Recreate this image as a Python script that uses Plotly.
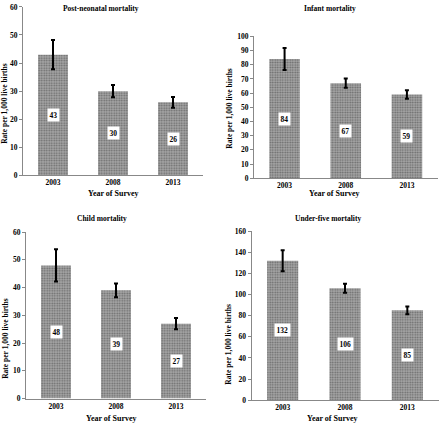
import plotly.graph_objects as go

years = ["2003", "2008", "2013"]

post_neonatal = [43, 30, 26]
post_neonatal_err = [5.2, 2.2, 1.9]
infant = [84, 67, 59]
infant_err = [7.7, 3.2, 3.0]
child = [48, 39, 27]
child_err = [5.8, 2.5, 2.0]
under_five = [132, 106, 85]
under_five_err = [10.0, 4.3, 3.6]

titles = ["Post-neonatal mortality", "Infant mortality", "Child mortality", "Under-five mortality"]
y_max = [60, 100, 60, 160]
y_step = [10, 10, 10, 20]

W, H = 440, 428
FONT = "Liberation Serif"

# pixel boxes for each panel: (left, right, top, bottom)
boxes = [(23, 203, 3, 175), (254, 437.5, 33, 178), (26, 206, 233, 403), (251.5, 438.5, 232, 404.7)]
title_pos = [(101, 5), (330, 5), (102, 219), (328, 219)]
xtitle_pos = [(113, 194), (334, 194), (111, 423), (332, 423)]
ytitle_pos = [(5, 102), (230, 107), (6, 342), (229, 348)]

series = [post_neonatal, infant, child, under_five]
errors = [post_neonatal_err, infant_err, child_err, under_five_err]


def paper_note(x, y, text, size=7.5, angle=0):
    return dict(x=x / W, y=1 - y / H, xref="paper", yref="paper", text=text,
                showarrow=False, xanchor="center", yanchor="middle", textangle=angle,
                font=dict(family=FONT, size=size, color="black"))


fig = go.Figure()
annotations = []
for i in range(4):
    xa = "x" if i == 0 else f"x{i+1}"
    ya = "y" if i == 0 else f"y{i+1}"
    fig.add_trace(go.Bar(
        x=years, y=series[i], xaxis=xa, yaxis=ya, width=0.5,
        marker=dict(color="#8c8c8c", line=dict(width=0),
                    pattern=dict(shape=".", bgcolor="#a6a6a6", fgcolor="#2e2e2e",
                                 size=2.5, solidity=0.4)),
        error_y=dict(type="data", array=errors[i], color="black", thickness=2, width=2),
        showlegend=False, hoverinfo="skip",
    ))
    l, r, t, b = boxes[i]
    fig.update_layout({
        f"xaxis{'' if i == 0 else i+1}": dict(
            type="category", domain=[l / W, r / W], anchor=ya, range=[-0.5, 2.5],
            showline=True, linecolor="#888", linewidth=1, ticks="",
            tickfont=dict(family=FONT, size=7.5, color="black"), showgrid=False,
            fixedrange=True),
        f"yaxis{'' if i == 0 else i+1}": dict(
            domain=[1 - b / H, 1 - t / H], anchor=xa, range=[0, y_max[i]],
            dtick=y_step[i], showline=True, linecolor="#888", linewidth=1,
            ticks="outside", ticklen=3, tickcolor="#888", showgrid=False,
            zeroline=False, tickfont=dict(family=FONT, size=7.5, color="black"),
            fixedrange=True),
    })
    for j, v in enumerate(series[i]):
        annotations.append(dict(
            x=j, y=v / 2, xref=xa, yref=ya, text=f"<b>{v}</b>", showarrow=False,
            xanchor="center", yanchor="middle", bgcolor="white", borderpad=1.5,
            font=dict(family=FONT, size=7.5, color="black")))
    annotations.append(paper_note(*title_pos[i], f"<b>{titles[i]}</b>"))
    annotations.append(paper_note(*xtitle_pos[i], "<b>Year of Survey</b>", size=8))
    annotations.append(paper_note(*ytitle_pos[i], "<b>Rate per 1,000 live births</b>", angle=-90))

fig.update_layout(
    width=W, height=H, margin=dict(l=0, r=0, t=0, b=0),
    paper_bgcolor="white", plot_bgcolor="white",
    annotations=annotations,
    font=dict(family=FONT, size=7.5, color="black"),
)
fig.update_xaxes(tickprefix="<b>", ticksuffix="</b>")
fig.update_yaxes(tickprefix="<b>", ticksuffix="</b>")

fig.write_html("out.html", config={"displayModeBar": False},
               post_script="document.body.style.margin = '0px';")
